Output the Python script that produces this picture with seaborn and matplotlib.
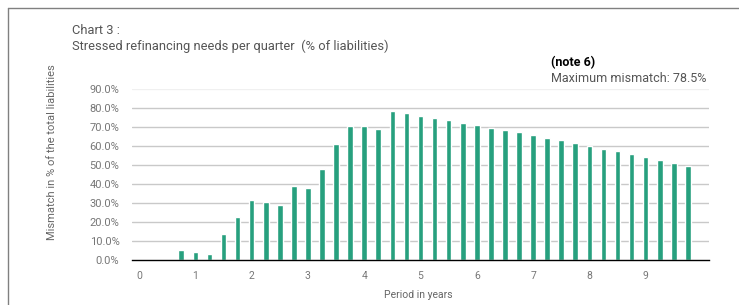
import numpy as np
import pandas as pd
import matplotlib
matplotlib.use("Agg")
import matplotlib.pyplot as plt
import seaborn as sns

sns.set_style("white")
plt.rcParams['font.family'] = ['Roboto', 'DejaVu Sans']

# quarter index (0 = first quarter of year 0) and stressed need in % of liabilities
quarters = list(range(41))
needs = [0, 0, 0, 4.9, 3.9, 3.0, 13.7, 22.5, 31.4, 30.4, 29.1, 38.8, 37.7, 47.9, 60.9,
         70.5, 70.4, 69.0, 78.5, 77.4, 76.0, 74.9, 73.7, 72.3, 71.2, 69.8, 68.4, 67.2,
         65.8, 64.4, 63.2, 61.8, 60.2, 58.6, 57.4, 56.0, 54.2, 52.8, 51.2, 49.6, 0]
year_labels = [str(y) for y in range(10)]
y_ticks = [0, 10, 20, 30, 40, 50, 60, 70, 80, 90]

df = pd.DataFrame({"quarter": quarters, "need": needs})

fig = plt.figure(figsize=(7.39, 3.05), dpi=100)
ax = fig.add_axes([132 / 739, 45.5 / 305, 577 / 739, 170.1 / 305])

sns.barplot(data=df, x="quarter", y="need", order=quarters, color="#27a07e",
            saturation=1, width=0.4, ax=ax, zorder=3)

ax.set_xlim(-0.5, 40.5)
ax.set_ylim(0, 90)

# gridlines
for t in y_ticks[1:]:
    c = "#f0f0f0" if t == 90 else "#c9c9c9"
    ax.axhline(t, color=c, lw=1.0, zorder=1)

ax.set_yticks(y_ticks)
ax.set_yticklabels([f"{t:.1f}%" for t in y_ticks], color="#777777", fontsize=8)
ax.tick_params(axis="y", length=0, pad=9)

ax.set_xticks(np.arange(0, 37, 4))
ax.set_xticklabels(year_labels, color="#777777", fontsize=7.5)
ax.set_xticks(np.arange(-0.5, 41, 1), minor=True)
ax.tick_params(axis="x", which="major", length=0, pad=8)
ax.tick_params(axis="x", which="minor", length=4, width=1, color="black", direction="out")

for s in ["top", "right", "left"]:
    ax.spines[s].set_visible(False)
ax.spines["bottom"].set_color("black")
ax.spines["bottom"].set_linewidth(1.0)
ax.spines["bottom"].set_zorder(4)
ax.set_xlabel("")
ax.set_ylabel("")

# texts
fig.text(72 / 739, 1 - 30 / 305, "Chart 3 :", fontsize=9.3, color="#555555", va="center")
fig.text(72 / 739, 1 - 46 / 305, "Stressed refinancing needs per quarter  (% of liabilities)",
         fontsize=9.3, color="#555555", va="center")
fig.text(551 / 739, 1 - 63 / 305, "(note 6)", fontsize=9, color="black",
         fontweight="bold", va="center")
fig.text(551 / 739, 1 - 79 / 305, "Maximum mismatch: 78.5%", fontsize=9, color="#555555",
         va="center")
fig.text(52 / 739, 1 - 152 / 305, "Mismatch in % of the total liabilities", fontsize=8,
         color="#666666", rotation=90, ha="center", va="center")
fig.text(418 / 739, 1 - 295 / 305, "Period in years", fontsize=7.5, color="#666666",
         ha="center", va="center")

# frame (left and top edges)
fig.add_artist(plt.Line2D([7.5 / 739, 7.5 / 739], [0, 1 - 7.5 / 305], color="#808080", lw=1.0))
fig.add_artist(plt.Line2D([7.5 / 739, 1], [1 - 7.5 / 305, 1 - 7.5 / 305], color="#808080", lw=1.0))

fig.savefig("out.png", dpi=100)
